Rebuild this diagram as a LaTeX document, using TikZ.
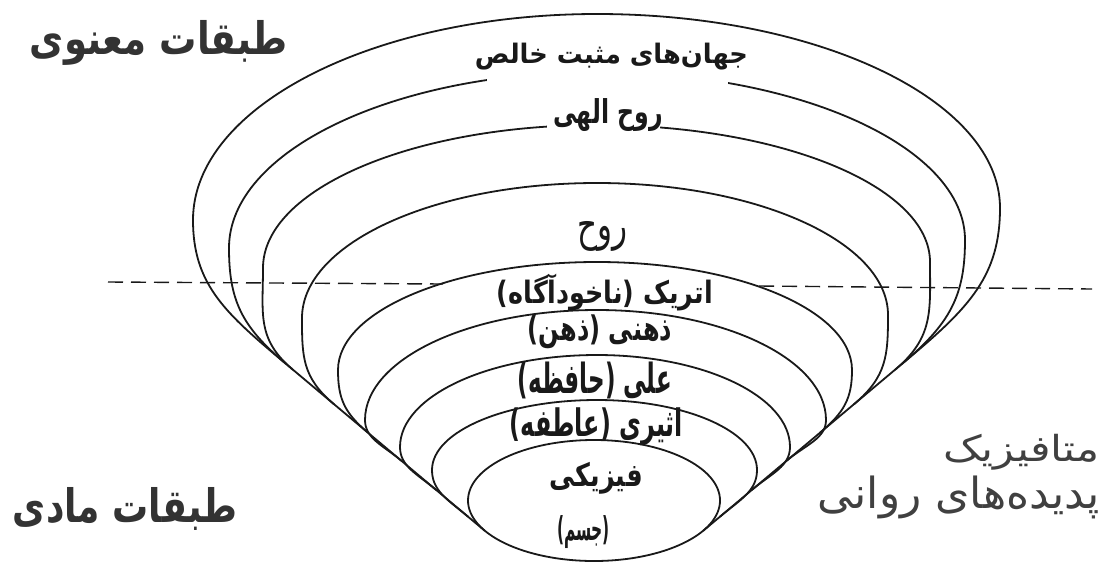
\documentclass[tikz,border=0pt]{standalone}
\usepackage{graphicx}
\usepackage{fontspec}
\newfontfamily\fa[Script=Arabic]{DejaVu Sans}
\TeXXeTstate=1
\newcommand\eggarc[9]{%
  \pgfmathsetmacro\dL{veclen(#1-#3,#2-#4)}%
  \pgfmathsetmacro\dR{veclen(#8-#6,#9-#7)}%
  \pgfmathsetmacro\aLx{#1-0.766*0.45*\dL}%
  \pgfmathsetmacro\aLy{#2-0.643*0.45*\dL}%
  \pgfmathsetmacro\bLy{#4+0.45*(#2-#4)}%
  \pgfmathsetmacro\cLy{#4-0.552*(#4-#5)}%
  \pgfmathsetmacro\dLx{597-0.552*(597-#3)}%
  \pgfmathsetmacro\dRx{597+0.552*(#6-597)}%
  \pgfmathsetmacro\cRy{#7-0.552*(#7-#5)}%
  \pgfmathsetmacro\bRy{#7+0.45*(#9-#7)}%
  \pgfmathsetmacro\aRx{#8+0.766*0.45*\dR}%
  \pgfmathsetmacro\aRy{#9-0.643*0.45*\dR}%
  \draw[layerline] (#1,#2) .. controls (\aLx,\aLy) and (#3,\bLy) .. (#3,#4)
    .. controls (#3,\cLy) and (\dLx,#5) .. (597,#5)
    .. controls (\dRx,#5) and (#6,\cRy) .. (#6,#7)
    .. controls (#6,\bRy) and (\aRx,\aRy) .. (#8,#9);
}
\newcommand\fitbox[3]{\resizebox*{#1pt}{#2pt}{#3}}
\begin{document}
\begin{tikzpicture}[x=1pt,y=-1pt,
  layerline/.style={line width=1.8pt,black!90,line cap=round},
  divider/.style={line width=1.4pt,black!90,dash pattern=on 15pt off 8pt},
  inlabel/.style={inner sep=0pt,text=black!90,font=\fa\bfseries},
  headlabel/.style={inner sep=0pt,text=black!80,font=\fa\bfseries},
  sidelabel/.style={inner sep=0pt,text=black!75,font=\fa}]
\useasboundingbox (0,0) rectangle (1108,563);
% envelope (common lower boundary)
\coordinate (envA) at (279,358);
\coordinate (envPL) at (484.6,530.6);
\coordinate (envPR) at (703.4,530.6);
\coordinate (envD) at (909,358);
\draw[layerline] (envA) -- (envPL);
\draw[layerline] (envPR) -- (envD);
% nested layers
\eggarc{279}{358}{193}{220}{14}{1000}{208}{909}{358}
\eggarc{286}{363.9}{229}{248}{72}{965}{240}{902}{363.9}
\eggarc{293}{369.8}{263}{268}{125}{930}{262}{895}{369.8}
\eggarc{334}{404.2}{302}{318}{183}{888}{315}{854}{404.2}
\eggarc{368}{432.7}{338}{370}{262}{852}{370}{820}{432.7}
\eggarc{402}{461.2}{365}{420}{310}{826}{420}{786}{461.2}
\eggarc{436}{489.8}{400}{447}{355}{790}{447}{752}{489.8}
\eggarc{468}{516.6}{432}{470}{400}{757}{470}{720}{516.6}
\draw[layerline] (594,500.5) ellipse [x radius=126, y radius=60.5];
% gaps for the labels
\fill[white] (487,56) rectangle (728,86);
\fill[white] (547,108) rectangle (660,134);
% dashed divider
\coordinate (dl1) at (108,282);
\coordinate (dl2) at (443,284);
\coordinate (dr1) at (759,286);
\coordinate (dr2) at (1092,289);
\draw[divider] (dl1) -- (dl2);
\draw[divider] (dr1) -- (dr2);
% labels
\node[headlabel] (spiritual) at (159,42.5) {\fitbox{258}{45}{\beginR طبقات معنوی\endR}};
\node[headlabel] (material) at (125,508.5) {\fitbox{224}{43}{\beginR طبقات مادی\endR}};
\node[sidelabel] (meta) at (1021.5,452) {\fitbox{157}{36}{\beginR متافیزیک\endR}};
\node[sidelabel] (psych) at (959,497.5) {\fitbox{282}{43}{\beginR پدیده‌های روانی\endR}};
\node[inlabel] (worlds) at (611.5,57) {\fitbox{273}{27}{\beginR جهان‌های مثبت خالص\endR}};
\node[inlabel] (divine) at (608,115) {\fitbox{110}{33}{\beginR روح الهی\endR}};
\node[inlabel,font=\fa] (soul) at (602,236) {\fitbox{50}{30}{\beginR روح\endR}};
\node[inlabel] (etheric) at (605,293) {\fitbox{216}{37}{\beginR اتریک (ناخودآگاه)\endR}};
\node[inlabel] (mental) at (600,332) {\fitbox{144}{34}{\beginR ذهنی (ذهن)\endR}};
\node[inlabel] (causal) at (595,380) {\fitbox{154}{37}{\beginR علی (حافظه)\endR}};
\node[inlabel] (astral) at (596.5,427) {\fitbox{173}{38}{\beginR اثیری (عاطفه)\endR}};
\node[inlabel] (physical) at (596.5,478) {\fitbox{93}{32}{\beginR فیزیکی\endR}};
\node[inlabel] (body) at (583.5,532) {\fitbox{53}{33}{\beginR (جسم)\endR}};
\end{tikzpicture}
\end{document}
